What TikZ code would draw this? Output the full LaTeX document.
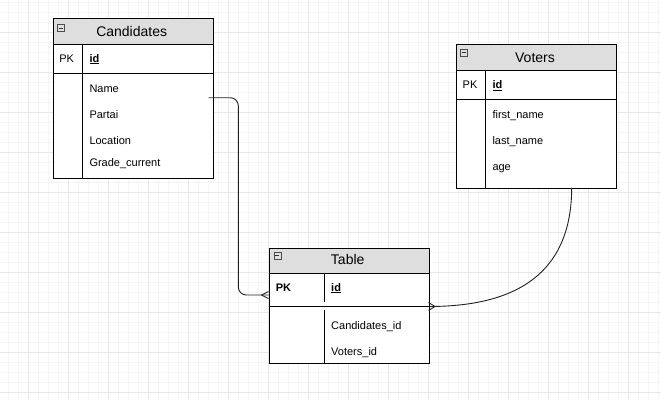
\documentclass[tikz,border=0pt]{standalone}
\usepackage{fontspec}
\setmainfont{Liberation Sans}
\definecolor{gridmin}{HTML}{F5F5F5}
\definecolor{gridmaj}{HTML}{E8E8E8}
\definecolor{hdr}{HTML}{DEDEDE}
\definecolor{conncol}{HTML}{222222}
\tikzset{
  minorline/.style={gridmin, line width=0.8pt},
  majorline/.style={gridmaj, line width=0.9pt},
  entity/.style={draw=black, line width=1.1pt, fill=white, inner sep=0pt, anchor=north west},
  hdrbox/.style={draw=black, line width=1.1pt, fill=hdr, inner sep=0pt, anchor=north west},
  sep/.style={black, line width=1.1pt},
  hdrtext/.style={font=\fontsize{14}{16}\selectfont, inner sep=0pt, anchor=base},
  rowtext/.style={font=\fontsize{11}{13}\selectfont, inner sep=0pt, anchor=base west},
  pktext/.style={font=\fontsize{11}{13}\selectfont, inner sep=0pt, anchor=base},
  minusicon/.style={draw=black!70, fill=black!12, line width=0.6pt, minimum size=7pt, inner sep=0pt},
  conn/.style={conncol, line width=0.9pt},
}
\newcommand{\minusmark}[2]{%
  \node[minusicon] (#2) at #1 {};
  \draw[black!80, line width=0.8pt] ($(#2.center)+(-2,0)$) -- ($(#2.center)+(2,0)$);
}
\usetikzlibrary{calc}
\begin{document}
\begin{tikzpicture}[x=1pt,y=-1pt]
\useasboundingbox (0,0) rectangle (661,400);
\fill[white] (0,0) rectangle (661,400);
% grid
\foreach \x in {8,18,...,658} \draw[minorline] (\x,0) -- (\x,400);
\foreach \y in {2,12,...,392} \draw[minorline] (0,\y) -- (661,\y);
\foreach \x in {28,68,...,628} \draw[majorline] (\x,0) -- (\x,400);
\foreach \y in {32,72,...,392} \draw[majorline] (0,\y) -- (661,\y);

% ---------- Candidates ----------
\node[entity, minimum width=160pt, minimum height=160pt] (cand) at (52.5,17.5) {};
\node[hdrbox, minimum width=160pt, minimum height=26pt] (candH) at (52.5,17.5) {};
\draw[sep] (52.5,73.5) -- (212.5,73.5);
\draw[sep] (82.5,43.5) -- (82.5,177.5);
\minusmark{(61,28)}{candM}
\node[hdrtext] (candT) at (131.7,36) {Candidates};
\node[pktext] (candPK) at (66.7,62) {PK};
\node[rowtext] (candId) at (89.3,62) {\underline{\textbf{id}}};
\node[rowtext] (candName) at (89.3,92) {Name};
\node[rowtext] (candPartai) at (89.3,118) {Partai};
\node[rowtext] (candLoc) at (89.3,144) {Location};
\node[rowtext] (candGrade) at (89.3,166) {Grade\_current};

% ---------- Voters ----------
\node[entity, minimum width=160pt, minimum height=144pt] (vot) at (455.5,43.5) {};
\node[hdrbox, minimum width=160pt, minimum height=26pt] (votH) at (455.5,43.5) {};
\draw[sep] (455.5,99.5) -- (615.5,99.5);
\draw[sep] (485.5,69.5) -- (485.5,187.5);
\minusmark{(463.5,52.5)}{votM}
\node[hdrtext] (votT) at (535,62) {Voters};
\node[pktext] (votPK) at (470,88.7) {PK};
\node[rowtext] (votId) at (492.3,88.7) {\underline{\textbf{id}}};
\node[rowtext] (votFirst) at (492.3,118.3) {first\_name};
\node[rowtext] (votLast) at (492.3,144.3) {last\_name};
\node[rowtext] (votAge) at (492.3,170.3) {age};

% ---------- Table ----------
\node[entity, minimum width=160pt, minimum height=115pt] (tab) at (268.5,247.5) {};
\node[hdrbox, minimum width=160pt, minimum height=25pt] (tabH) at (268.5,247.5) {};
\draw[sep] (268.5,306.5) -- (428.5,306.5);
\draw[sep] (324.5,272.5) -- (324.5,302);
\draw[sep] (324.5,310) -- (324.5,362.5);
\minusmark{(277.3,255.5)}{tabM}
\node[hdrtext] (tabT) at (347.7,264.7) {Table};
\node[rowtext] (tabPK) at (275.7,291) {\textbf{PK}};
\node[rowtext] (tabId) at (331,291) {\underline{\textbf{id}}};
\node[rowtext] (tabCand) at (331,329) {Candidates\_id};
\node[rowtext] (tabVot) at (331,355) {Voters\_id};

% ---------- connectors ----------
\coordinate (c1s) at (208.5,97.7);
\coordinate (c1e) at (268.5,295);
\coordinate (c2s) at (571.7,187.5);
\coordinate (c2e) at (428.5,306.5);
\draw[conn, rounded corners=8pt] (c1s) -- (238.3,97.7) -- (238.3,295) -- (c1e);
\draw[conn] ($(c1e)+(-7,0)$) -- ($(c1e)+(0,-3.5)$);
\draw[conn] ($(c1e)+(-7,0)$) -- ($(c1e)+(0,3.5)$);
\draw[conn] (c2s) .. controls (571.7,285) and (500,306.5) .. (c2e);
\draw[conn] ($(c2e)+(6.5,0)$) -- ($(c2e)+(0,-4)$);
\draw[conn] ($(c2e)+(6.5,0)$) -- ($(c2e)+(0,4)$);
\end{tikzpicture}
\end{document}
